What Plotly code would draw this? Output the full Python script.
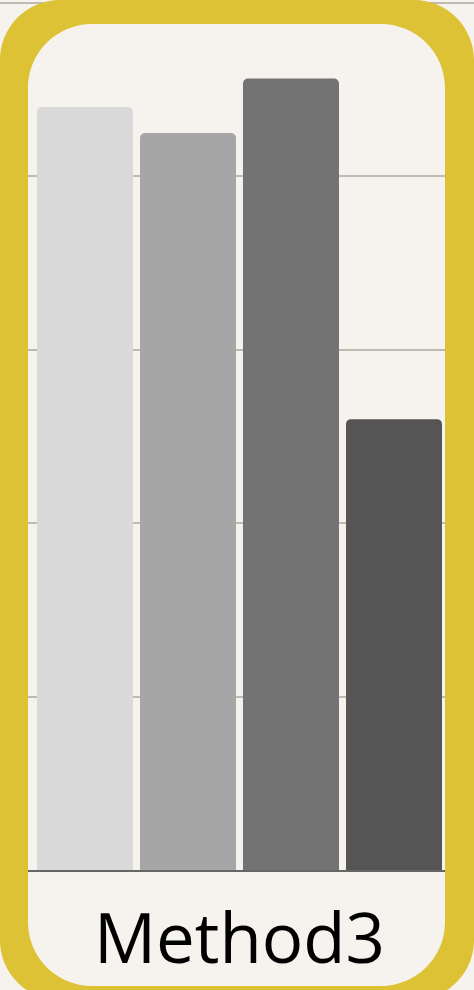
import plotly.graph_objects as go

# ---- data ----
categories = ["Method3"]
series_names = ["Series A", "Series B", "Series C", "Series D"]
series_values = [0.88, 0.85, 0.913, 0.52]
series_colors = ["#d9d9d9", "#a6a6a6", "#737373", "#555555"]
y_ticks = [0, 0.2, 0.4, 0.6, 0.8, 1.0]

W, H = 474, 990
M_T, M_B = 0, 120
PLOT_H = H - M_T - M_B
BASE = H - M_B
UNIT_PX = 867.0  # pixels per 1.0 on the value axis


def px(x):
    return x / W


def py(y):
    return (BASE - y) / PLOT_H


def rounded_rect(x0, y0, x1, y1, r, reverse=False):
    k = 0.5523 * r
    pts = [
        ("M", [(x0 + r, y0)]),
        ("L", [(x1 - r, y0)]),
        ("C", [(x1 - r + k, y0), (x1, y0 + r - k), (x1, y0 + r)]),
        ("L", [(x1, y1 - r)]),
        ("C", [(x1, y1 - r + k), (x1 - r + k, y1), (x1 - r, y1)]),
        ("L", [(x0 + r, y1)]),
        ("C", [(x0 + r - k, y1), (x0, y1 - r + k), (x0, y1 - r)]),
        ("L", [(x0, y0 + r)]),
        ("C", [(x0, y0 + r - k), (x0 + r - k, y0), (x0 + r, y0)]),
    ]
    if reverse:
        pts = [
            ("M", [(x0 + r, y0)]),
            ("C", [(x0 + r - k, y0), (x0, y0 + r - k), (x0, y0 + r)]),
            ("L", [(x0, y1 - r)]),
            ("C", [(x0, y1 - r + k), (x0 + r - k, y1), (x0 + r, y1)]),
            ("L", [(x1 - r, y1)]),
            ("C", [(x1 - r + k, y1), (x1, y1 - r + k), (x1, y1 - r)]),
            ("L", [(x1, y0 + r)]),
            ("C", [(x1, y0 + r - k), (x1 - r + k, y0), (x1 - r, y0)]),
            ("L", [(x0 + r, y0)]),
        ]
    s = ""
    for cmd, ps in pts:
        s += cmd + " " + " ".join(f"{px(a):.5f},{py(b):.5f}" for a, b in ps) + " "
    return s + "Z "


fig = go.Figure()
for name, val, col in zip(series_names, series_values, series_colors):
    fig.add_trace(go.Bar(x=categories, y=[val], name=name, marker=dict(color=col, line=dict(width=0))))

ring = rounded_rect(0, 0, 474, 1000, 60) + rounded_rect(28, 24, 445, 986, 64, reverse=True)

fig.update_layout(
    width=W, height=H,
    margin=dict(l=0, r=0, t=M_T, b=M_B, pad=0),
    paper_bgcolor="#f6f3ee",
    plot_bgcolor="#f6f3ee",
    barmode="group",
    bargap=0,
    bargroupgap=0.068,
    barcornerradius=5,
    showlegend=False,
    font=dict(family="Open Sans", color="#000000"),
    xaxis=dict(
        type="category",
        range=[-0.5813, 0.5692],
        showline=True, linecolor="#666666", linewidth=2,
        showgrid=False, zeroline=False,
        ticks="", ticklabelstandoff=8,
        tickfont=dict(size=69, family="Open Sans", color="#000000"),
        fixedrange=True,
    ),
    yaxis=dict(
        range=[0, PLOT_H / UNIT_PX],
        tickvals=y_ticks,
        showticklabels=False,
        showgrid=True, gridcolor="#bfbab2", gridwidth=2,
        zeroline=False, showline=False,
        fixedrange=True,
    ),
    shapes=[
        dict(type="path", xref="paper", yref="paper", path=ring,
             fillcolor="#dcc234", line=dict(width=0), layer="above"),
    ],
)

fig.write_html("out.html")
